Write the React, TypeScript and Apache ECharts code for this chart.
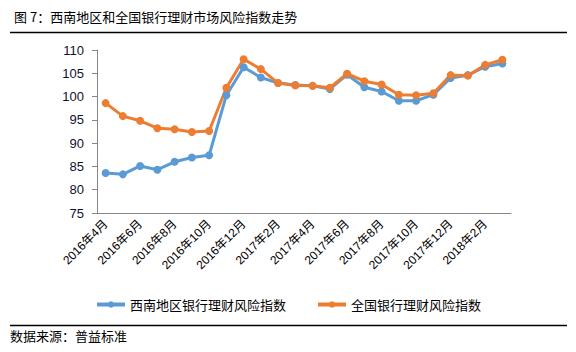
import React, { useEffect, useRef } from "react";
import * as echarts from "echarts";

const categories = [
  "2016年4月", "2016年5月", "2016年6月", "2016年7月", "2016年8月", "2016年9月",
  "2016年10月", "2016年11月", "2016年12月", "2017年1月", "2017年2月", "2017年3月",
  "2017年4月", "2017年5月", "2017年6月", "2017年7月", "2017年8月", "2017年9月",
  "2017年10月", "2017年11月", "2017年12月", "2018年1月", "2018年2月", "2018年3月",
];
const westSeries = [
  83.6, 83.3, 85.1, 84.3, 86.0, 86.9, 87.4, 100.3, 106.3, 104.1, 102.9, 102.5,
  102.3, 101.6, 104.7, 102.0, 101.1, 99.1, 99.1, 100.4, 104.0, 104.6, 106.4, 107.1,
];
const nationSeries = [
  98.6, 95.8, 94.8, 93.2, 93.0, 92.4, 92.6, 101.9, 108.0, 105.9, 102.9, 102.4,
  102.3, 101.9, 104.9, 103.3, 102.6, 100.4, 100.3, 100.7, 104.6, 104.5, 106.8, 107.9,
];
const seriesNames = ["西南地区银行理财风险指数", "全国银行理财风险指数"];
const titleText = "图 7：西南地区和全国银行理财市场风险指数走势";
const sourceText = "数据来源：普益标准";

const FONT = "'Liberation Sans', 'Noto Sans CJK SC', sans-serif";
const CJK = "'Noto Sans CJK SC', sans-serif";

export default function App() {
  const ref = useRef<HTMLDivElement>(null);
  useEffect(() => {
    if (!ref.current) return;
    const chart = echarts.init(ref.current, null, { renderer: "svg" });
    chart.setOption({
      animation: false,
      backgroundColor: "#ffffff",
      title: {
        text: titleText,
        left: 9,
        top: 5,
        textStyle: { fontSize: 13, fontWeight: "normal", color: "#000", fontFamily: CJK },
      },
      graphic: [
        { type: "line", shape: { x1: 10, y1: 32.5, x2: 567, y2: 32.5 }, style: { stroke: "#000", lineWidth: 1.5 } },
        { type: "line", shape: { x1: 10, y1: 325.5, x2: 567, y2: 325.5 }, style: { stroke: "#000", lineWidth: 1.5 } },
        {
          type: "text",
          left: 10,
          top: 329,
          style: { text: sourceText, fontSize: 13, fill: "#000", fontFamily: CJK },
        },
      ],
      legend: {
        left: "center",
        top: 293,
        itemWidth: 28,
        itemHeight: 8,
        itemGap: 30,
        lineStyle: { width: 4 },
        textStyle: { fontSize: 13, color: "#000", fontFamily: CJK },
        data: seriesNames,
      },
      grid: { left: 97, right: 65, top: 50, bottom: 139, containLabel: false },
      xAxis: {
        type: "category",
        data: categories,
        boundaryGap: true,
        axisLine: { lineStyle: { color: "#868686", width: 1 } },
        axisTick: { interval: 1, length: 5, lineStyle: { color: "#868686" } },
        axisLabel: {
          interval: 1,
          rotate: 45,
          fontSize: 12,
          color: "#000",
          fontFamily: FONT,
          margin: 9,
        },
      },
      yAxis: {
        type: "value",
        min: 75,
        max: 110,
        interval: 5,
        axisLine: { show: true, lineStyle: { color: "#868686", width: 1 } },
        axisTick: { show: true, length: 5, lineStyle: { color: "#868686" } },
        splitLine: { show: false },
        axisLabel: { fontSize: 13, color: "#101030", fontFamily: FONT, margin: 13 },
      },
      series: [
        {
          name: seriesNames[0],
          type: "line",
          data: westSeries,
          symbol: "circle",
          symbolSize: 8,
          lineStyle: { width: 3, color: "#5B9BD5" },
          itemStyle: { color: "#5B9BD5" },
        },
        {
          name: seriesNames[1],
          type: "line",
          data: nationSeries,
          symbol: "circle",
          symbolSize: 8,
          lineStyle: { width: 3, color: "#ED7D31" },
          itemStyle: { color: "#ED7D31" },
        },
      ],
    });
    return () => chart.dispose();
  }, []);
  return (
    <div
      ref={ref}
      style={{ position: "fixed", left: 0, top: 0, width: 576, height: 352, background: "#fff" }}
    />
  );
}
